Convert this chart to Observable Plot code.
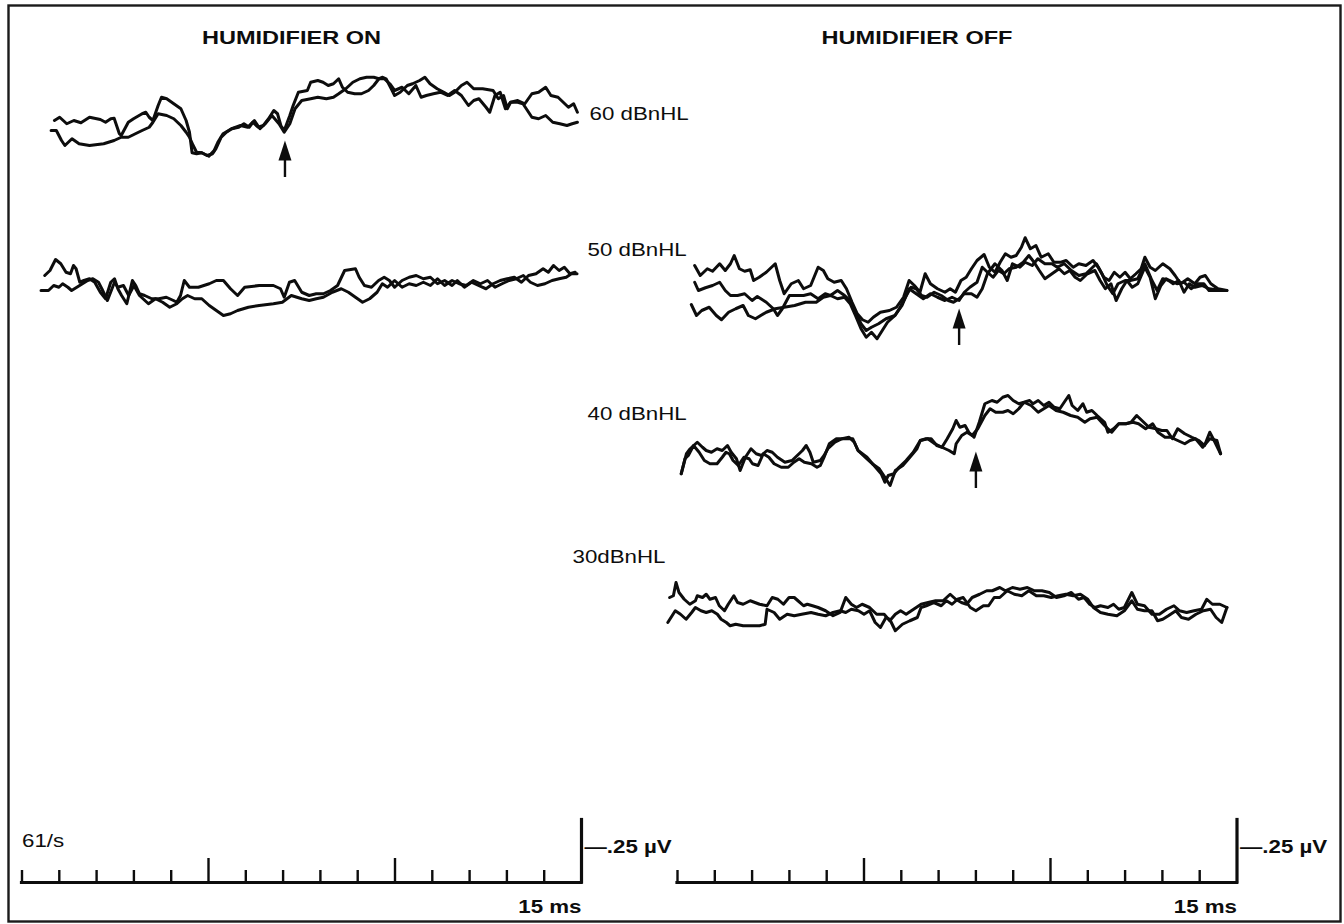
<!DOCTYPE html>
<html>
<head>
<meta charset="utf-8">
<script src="https://cdn.jsdelivr.net/npm/d3@7"></script>
<script src="https://cdn.jsdelivr.net/npm/@observablehq/plot@0.6"></script>
<style>
  html, body { margin: 0; padding: 0; background: #fff; }
  #chart { width: 1344px; height: 924px; }
</style>
</head>
<body>
<div id="chart"></div>
<script>
// ---------------- DATA (time in ms, amplitude in µV relative to each trace's baseline) ----------------
const panelTitles = ["HUMIDIFIER ON", "HUMIDIFIER OFF"];
const levelLabels = ["60 dBnHL", "50 dBnHL", "40 dBnHL", "30dBnHL"];
const rateLabel = "61/s";
const timeLabel = "15 ms";
const ampLabel = "\u2014.25 \u00b5V";
const sweepMs = 15;
const calibrationUV = 0.25;
const tickTimes = [0, 1, 2, 3, 4, 5, 6, 7, 8, 9, 10, 11, 12, 13, 14];
const majorTickTimes = [5, 10];

// Humidifier ON, 60 dBnHL (two replications)
const on60a = [[0.87,0.020],[1.01,0.033],[1.20,0.007],[1.39,0.020],[1.58,0.011],[1.81,0.033],[2.10,0.024],[2.24,0.013],[2.38,0.027],[2.47,0.029],[2.61,-0.033],[2.66,-0.040],[2.85,0.013],[2.99,0.027],[3.22,0.047],[3.32,0.053],[3.41,0.033],[3.51,0.020],[3.65,0.080],[3.74,0.113],[3.88,0.107],[4.07,0.087],[4.26,0.067],[4.40,0.020],[4.49,-0.027],[4.56,-0.109],[4.68,-0.113],[4.82,-0.109],[4.96,-0.120],[5.11,-0.113],[5.20,-0.093],[5.34,-0.047],[5.48,-0.027],[5.62,-0.013],[5.81,-0.007],[5.95,0.007],[6.09,-0.007],[6.19,0.013],[6.33,-0.007],[6.47,0],[6.61,0.027],[6.75,0.060],[6.85,0.047],[6.94,0],[7.03,-0.020],[7.18,0.040],[7.27,0.080],[7.41,0.133],[7.65,0.140],[7.74,0.173],[7.93,0.180],[8.07,0.173],[8.21,0.160],[8.35,0.167],[8.49,0.187],[8.59,0.153],[8.73,0.133],[8.92,0.127],[9.10,0.127],[9.29,0.140],[9.43,0.160],[9.57,0.187],[9.67,0.193],[9.76,0.187],[9.90,0.147],[9.99,0.120],[10.14,0.133],[10.33,0.160],[10.47,0.167],[10.66,0.180],[10.80,0.193],[10.94,0.167],[11.13,0.147],[11.31,0.133],[11.46,0.120],[11.60,0.133],[11.78,0.160],[11.93,0.173],[12.11,0.147],[12.35,0.147],[12.63,0.140],[12.77,0.107],[12.91,0.120],[13.01,0.067],[13.10,0.093],[13.29,0.100],[13.48,0.087],[13.67,0.127],[13.85,0.133],[14.04,0.153],[14.18,0.120],[14.37,0.113],[14.51,0.093],[14.65,0.073],[14.79,0.087],[14.89,0.053]];
const on60b = [[0.78,-0.020],[0.92,-0.020],[1.06,-0.060],[1.15,-0.080],[1.34,-0.053],[1.53,-0.073],[1.81,-0.080],[2.19,-0.073],[2.47,-0.060],[2.66,-0.047],[2.85,-0.047],[3.04,-0.033],[3.22,-0.020],[3.41,-0.007],[3.51,0.013],[3.65,0.047],[3.88,0.040],[4.07,0.027],[4.26,0],[4.40,-0.027],[4.49,-0.047],[4.59,-0.080],[4.68,-0.107],[4.82,-0.109],[5.01,-0.123],[5.15,-0.100],[5.25,-0.067],[5.39,-0.033],[5.62,-0.013],[5.86,0],[6.05,-0.007],[6.23,0.020],[6.38,-0.013],[6.52,0.007],[6.70,0.040],[6.89,0.007],[7.03,-0.027],[7.18,0.007],[7.32,0.067],[7.50,0.100],[7.74,0.107],[7.93,0.113],[8.16,0.107],[8.35,0.113],[8.49,0.127],[8.68,0.147],[8.87,0.173],[9.06,0.187],[9.24,0.193],[9.43,0.193],[9.57,0.187],[9.71,0.187],[9.86,0.167],[9.99,0.140],[10.19,0.153],[10.37,0.127],[10.56,0.160],[10.70,0.113],[10.84,0.120],[11.03,0.127],[11.22,0.133],[11.41,0.120],[11.60,0.140],[11.78,0.120],[11.97,0.080],[12.11,0.100],[12.25,0.107],[12.44,0.073],[12.54,0.053],[12.68,0.120],[12.82,0.133],[12.96,0.067],[13.10,0.093],[13.29,0.093],[13.43,0.087],[13.52,0.067],[13.67,0.033],[13.85,0.027],[14.04,0.040],[14.23,0.013],[14.42,0.007],[14.61,0],[14.75,0.007],[14.89,0.013]];

// Humidifier ON, 50 dBnHL
const on50a = [[0.61,0.060],[0.75,0.080],[0.90,0.124],[1.04,0.107],[1.18,0.073],[1.30,0.067],[1.38,0.100],[1.45,0.087],[1.55,0.033],[1.66,0.040],[1.81,0.047],[1.95,0.033],[2.10,-0.007],[2.24,-0.033],[2.38,0.033],[2.48,0.047],[2.57,0.007],[2.67,-0.020],[2.81,-0.053],[2.96,0.040],[3.05,0.020],[3.15,-0.013],[3.29,-0.020],[3.48,-0.033],[3.67,-0.033],[3.87,-0.027],[4.06,-0.040],[4.15,-0.047],[4.25,-0.020],[4.35,0.040],[4.49,0.013],[4.73,0.013],[5.02,0.027],[5.21,0.040],[5.40,0.040],[5.59,0.007],[5.78,-0.020],[5.97,0.013],[6.36,0.020],[6.74,0.020],[6.93,0.007],[7.03,-0.027],[7.17,0.033],[7.31,0.040],[7.50,-0.007],[7.70,-0.020],[7.89,-0.013],[8.08,-0.013],[8.27,0],[8.46,0.020],[8.65,0.080],[8.94,0.087],[9.04,0.053],[9.18,0.020],[9.37,0.013],[9.56,0.040],[9.71,0.053],[9.85,0.040],[9.99,0.013],[10.19,0.040],[10.38,0.053],[10.57,0.060],[10.76,0.047],[10.95,0.053],[11.14,0.027],[11.33,0.040],[11.53,0.020],[11.67,0.040],[11.86,0.013],[12.05,0.033],[12.24,0.020],[12.44,0.007],[12.63,0.027],[12.82,0.040],[13.01,0.047],[13.20,0.053],[13.39,0.033],[13.58,0.060],[13.78,0.067],[13.97,0.087],[14.11,0.073],[14.25,0.100],[14.40,0.080],[14.54,0.093],[14.69,0.067],[14.83,0.073]];
const on50b = [[0.51,0],[0.71,0],[0.85,0.020],[0.99,0.013],[1.09,0.027],[1.23,0.013],[1.33,0],[1.47,0.013],[1.62,0.027],[1.76,0.040],[1.90,0.047],[2.05,0.033],[2.14,0.007],[2.29,-0.040],[2.48,0.033],[2.57,0.013],[2.72,0.020],[2.86,-0.020],[3.00,0.020],[3.15,-0.020],[3.39,-0.053],[3.58,-0.033],[3.77,-0.047],[3.96,-0.067],[4.15,-0.053],[4.30,-0.033],[4.44,-0.020],[4.63,-0.033],[4.82,-0.033],[5.02,-0.060],[5.21,-0.080],[5.40,-0.100],[5.59,-0.093],[5.78,-0.080],[6.07,-0.067],[6.36,-0.060],[6.74,-0.053],[6.98,-0.047],[7.22,-0.020],[7.50,-0.033],[7.70,-0.040],[7.89,-0.033],[8.08,-0.027],[8.32,-0.007],[8.56,0.007],[8.75,-0.007],[8.94,-0.027],[9.13,-0.047],[9.32,-0.033],[9.52,-0.007],[9.66,0.027],[9.80,0.013],[9.99,0.040],[10.19,0.013],[10.38,0.027],[10.57,0.020],[10.76,0.033],[10.95,0.020],[11.14,0.047],[11.33,0.020],[11.53,0.040],[11.72,0.027],[11.91,0.020],[12.10,0.040],[12.29,0.027],[12.48,0.040],[12.68,0.013],[12.87,0.027],[13.06,0.040],[13.25,0.047],[13.44,0.060],[13.63,0.033],[13.82,0.020],[14.02,0.027],[14.21,0.040],[14.40,0.047],[14.59,0.053],[14.73,0.067],[14.88,0.067]];

// Humidifier OFF, 50 dBnHL (three replications)
const off50a = [[0.46,0.100],[0.61,0.060],[0.80,0.087],[0.94,0.077],[1.13,0.107],[1.28,0.080],[1.42,0.107],[1.52,0.140],[1.66,0.087],[1.80,0.077],[1.95,0.083],[2.04,0.040],[2.19,0.053],[2.38,0.073],[2.62,0.107],[2.74,0.040],[2.86,-0.013],[3.05,0.027],[3.24,0.040],[3.38,0.007],[3.57,0.020],[3.77,0.093],[3.91,0.080],[4.03,0.047],[4.20,0.033],[4.39,0.040],[4.53,0.007],[4.68,-0.047],[4.82,-0.093],[4.96,-0.117],[5.11,-0.127],[5.25,-0.107],[5.44,-0.087],[5.68,-0.080],[5.87,-0.067],[6.06,-0.027],[6.21,0.040],[6.35,0.020],[6.50,-0.007],[6.64,0.067],[6.78,0.027],[6.97,0.007],[7.17,-0.007],[7.31,0.007],[7.45,-0.007],[7.60,0.040],[7.74,0.053],[7.88,0.087],[8.03,0.120],[8.22,0.144],[8.36,0.093],[8.51,0.073],[8.65,0.113],[8.79,0.147],[8.94,0.133],[9.08,0.140],[9.22,0.173],[9.32,0.211],[9.46,0.167],[9.61,0.180],[9.75,0.133],[9.94,0.147],[10.09,0.113],[10.28,0.113],[10.42,0.120],[10.61,0.093],[10.76,0.107],[10.95,0.100],[11.14,0.120],[11.28,0.093],[11.43,0.053],[11.57,0.040],[11.71,0.073],[11.86,0.053],[12.00,0.073],[12.14,0.047],[12.29,0.067],[12.43,0.087],[12.53,0.133],[12.67,0.093],[12.81,0.080],[13.01,0.107],[13.20,0.087],[13.34,0.060],[13.49,0.027],[13.68,0.047],[13.87,0.027],[14.01,0.053],[14.15,0.060],[14.30,0.027],[14.49,0.007],[14.73,0]];
const off50b = [[0.46,0.033],[0.56,0],[0.75,0.011],[0.94,0.020],[1.13,0.033],[1.28,0],[1.42,-0.020],[1.61,-0.020],[1.80,-0.013],[2.00,-0.040],[2.14,-0.024],[2.38,-0.047],[2.57,-0.073],[2.68,-0.100],[2.81,-0.073],[3.00,-0.020],[3.19,-0.020],[3.38,-0.020],[3.57,-0.013],[3.77,-0.033],[3.96,-0.013],[4.10,-0.020],[4.29,0],[4.48,-0.020],[4.63,-0.040],[4.77,-0.087],[4.92,-0.133],[5.06,-0.160],[5.20,-0.147],[5.39,-0.133],[5.59,-0.113],[5.83,-0.100],[6.02,-0.060],[6.21,0.007],[6.40,-0.013],[6.59,-0.033],[6.78,-0.013],[6.97,-0.027],[7.17,-0.040],[7.36,-0.027],[7.55,-0.040],[7.69,-0.007],[7.84,0.013],[8.03,0.033],[8.17,0.093],[8.31,0.073],[8.46,0.053],[8.60,0.080],[8.75,0.067],[8.89,0.087],[9.08,0.093],[9.27,0.113],[9.42,0.140],[9.56,0.113],[9.70,0.080],[9.85,0.047],[10.04,0.067],[10.23,0.087],[10.37,0.067],[10.52,0.080],[10.66,0.053],[10.80,0.040],[10.99,0.067],[11.19,0.080],[11.33,0.040],[11.47,0.007],[11.62,0.027],[11.76,-0.040],[11.91,0.007],[12.05,0.040],[12.19,0.013],[12.34,0.027],[12.53,0.093],[12.67,0.053],[12.81,-0.033],[12.96,0.020],[13.10,0.047],[13.29,0.027],[13.44,0.040],[13.58,-0.007],[13.72,0.027],[13.87,0.013],[14.06,0.020],[14.25,0.007],[14.44,0.003],[14.59,0]];
const off50c = [[0.37,-0.056],[0.51,-0.100],[0.65,-0.080],[0.85,-0.067],[1.04,-0.100],[1.18,-0.117],[1.37,-0.087],[1.56,-0.073],[1.76,-0.060],[1.90,-0.100],[2.09,-0.113],[2.38,-0.087],[2.62,-0.073],[2.86,-0.067],[3.14,-0.060],[3.43,-0.047],[3.72,-0.047],[3.91,-0.027],[4.10,-0.020],[4.29,-0.033],[4.48,-0.027],[4.63,-0.053],[4.77,-0.100],[4.92,-0.153],[5.06,-0.187],[5.20,-0.167],[5.35,-0.193],[5.49,-0.160],[5.63,-0.127],[5.83,-0.100],[5.97,-0.067],[6.11,-0.027],[6.26,0.013],[6.40,0.007],[6.54,-0.020],[6.69,-0.027],[6.88,-0.007],[7.07,-0.020],[7.26,-0.040],[7.40,-0.047],[7.55,-0.033],[7.69,-0.013],[7.88,-0.013],[8.03,-0.027],[8.17,0.007],[8.31,0.067],[8.51,0.107],[8.70,0.080],[8.84,0.040],[8.98,0.107],[9.18,0.093],[9.32,0.113],[9.51,0.100],[9.66,0.127],[9.85,0.107],[10.04,0.107],[10.18,0.093],[10.37,0.107],[10.56,0.080],[10.76,0.060],[10.95,0.067],[11.09,0.087],[11.23,0.107],[11.38,0.067],[11.52,0.020],[11.67,-0.013],[11.81,0.027],[12.00,0.040],[12.14,0.040],[12.34,0.047],[12.53,0.107],[12.72,0.040],[12.86,0],[13.01,0.047],[13.20,0.040],[13.39,0.027],[13.58,0.033],[13.77,0.007],[13.96,0.027],[14.11,0.027],[14.25,0],[14.44,0],[14.73,0]];

// Humidifier OFF, 40 dBnHL
const off40a = [[0.10,-0.093],[0.24,-0.013],[0.34,0.007],[0.53,0.033],[0.67,0.013],[0.77,0],[0.91,-0.007],[1.06,0.007],[1.20,0],[1.34,0.020],[1.44,-0.007],[1.58,-0.033],[1.68,-0.080],[1.82,-0.027],[1.97,0.007],[2.11,-0.013],[2.25,-0.020],[2.40,0],[2.54,-0.007],[2.68,-0.027],[2.88,-0.047],[3.07,-0.040],[3.21,-0.020],[3.35,0],[3.45,0.020],[3.55,-0.007],[3.64,-0.047],[3.83,-0.040],[3.93,-0.020],[4.03,0.007],[4.22,0.033],[4.41,0.047],[4.60,0.053],[4.74,0.033],[4.84,0],[5.03,-0.027],[5.22,-0.053],[5.41,-0.073],[5.56,-0.107],[5.70,-0.140],[5.84,-0.080],[6.04,-0.060],[6.23,-0.027],[6.42,0.007],[6.51,0.040],[6.66,0.047],[6.80,0.047],[6.95,0.020],[7.09,0.013],[7.23,0.047],[7.38,0.087],[7.47,0.120],[7.57,0.093],[7.71,0.100],[7.81,0.073],[7.95,0.053],[8.09,0.113],[8.24,0.187],[8.43,0.200],[8.57,0.193],[8.72,0.213],[8.86,0.220],[9.00,0.200],[9.15,0.187],[9.29,0.193],[9.44,0.200],[9.53,0.187],[9.67,0.200],[9.82,0.180],[9.96,0.193],[10.10,0.173],[10.25,0.167],[10.34,0.187],[10.49,0.220],[10.58,0.180],[10.73,0.160],[10.87,0.187],[10.97,0.153],[11.11,0.160],[11.25,0.140],[11.45,0.113],[11.54,0.073],[11.69,0.087],[11.83,0.107],[12.02,0.107],[12.16,0.113],[12.31,0.140],[12.45,0.120],[12.64,0.093],[12.83,0.087],[12.98,0.080],[13.12,0.080],[13.27,0.047],[13.41,0.087],[13.60,0.067],[13.79,0.053],[13.98,0.040],[14.13,0.020],[14.27,0.073],[14.41,0.033],[14.56,-0.013]];
const off40b = [[0.10,-0.093],[0.20,-0.033],[0.29,-0.020],[0.43,0.020],[0.58,-0.007],[0.72,-0.040],[0.87,-0.053],[1.06,-0.053],[1.20,-0.027],[1.30,-0.007],[1.39,-0.013],[1.49,-0.040],[1.63,-0.060],[1.78,-0.027],[1.92,-0.033],[2.01,-0.053],[2.16,-0.060],[2.30,-0.013],[2.45,-0.027],[2.59,-0.053],[2.78,-0.067],[2.97,-0.067],[3.12,-0.047],[3.26,-0.033],[3.40,-0.047],[3.59,-0.053],[3.74,-0.067],[3.83,-0.060],[3.93,-0.027],[4.07,0.027],[4.26,0.047],[4.50,0.047],[4.70,0.047],[4.84,0],[5.08,-0.027],[5.27,-0.060],[5.46,-0.093],[5.56,-0.127],[5.65,-0.100],[5.80,-0.093],[5.94,-0.067],[6.13,-0.040],[6.32,-0.007],[6.51,0.040],[6.71,0.047],[6.90,0.027],[7.09,0.013],[7.28,0],[7.42,-0.013],[7.47,0.027],[7.62,0.060],[7.76,0.073],[7.90,0.060],[8.05,0.087],[8.24,0.140],[8.38,0.167],[8.53,0.153],[8.72,0.153],[8.86,0.160],[9.00,0.147],[9.15,0.167],[9.29,0.193],[9.48,0.180],[9.67,0.153],[9.82,0.167],[9.96,0.180],[10.15,0.160],[10.34,0.153],[10.54,0.140],[10.73,0.133],[10.92,0.113],[11.06,0.127],[11.25,0.133],[11.45,0.100],[11.64,0.073],[11.83,0.107],[12.02,0.107],[12.21,0.113],[12.36,0.107],[12.55,0.087],[12.74,0.107],[12.88,0.073],[13.07,0.053],[13.22,0.053],[13.41,0.040],[13.60,0.027],[13.74,0.040],[13.89,0.047],[14.08,0.013],[14.27,0.047],[14.46,0.040],[14.56,-0.013]];

// Humidifier OFF, 30 dBnHL
const off30a = [[-0.21,0.032],[-0.11,0.039],[-0.04,0.092],[0.04,0.052],[0.18,0.025],[0.33,0.005],[0.48,0.019],[0.53,0.039],[0.67,0.032],[0.77,0.045],[0.87,0.025],[1.02,0.032],[1.12,-0.001],[1.26,-0.021],[1.36,0.005],[1.51,0.039],[1.61,0.012],[1.76,0.005],[1.95,0.019],[2.20,0.005],[2.40,-0.001],[2.54,0.032],[2.69,0.025],[2.84,0.005],[2.99,0.032],[3.13,0.032],[3.23,0.019],[3.38,-0.001],[3.48,0.005],[3.62,-0.001],[3.77,-0.008],[3.97,-0.021],[4.17,-0.041],[4.36,-0.028],[4.51,0.032],[4.66,0.005],[4.80,-0.008],[4.95,0.005],[5.15,-0.008],[5.34,-0.035],[5.54,-0.035],[5.69,-0.061],[5.84,-0.035],[5.98,-0.021],[6.13,-0.035],[6.33,-0.015],[6.53,0.005],[6.72,0.012],[6.92,0.019],[7.12,0.019],[7.31,0.045],[7.46,0.025],[7.61,0.012],[7.75,0.005],[7.90,0.032],[8.10,0.045],[8.29,0.059],[8.44,0.059],[8.64,0.072],[8.79,0.059],[8.98,0.072],[9.18,0.065],[9.38,0.072],[9.57,0.059],[9.77,0.059],[9.97,0.052],[10.16,0.032],[10.36,0.039],[10.56,0.052],[10.75,0.025],[10.90,0.032],[11.05,0.005],[11.19,-0.008],[11.34,-0.001],[11.54,-0.008],[11.69,0.005],[11.83,-0.015],[11.98,-0.008],[12.18,0.052],[12.33,0.005],[12.52,-0.001],[12.72,-0.035],[12.92,-0.035],[13.11,-0.015],[13.31,-0.001],[13.46,-0.021],[13.65,-0.028],[13.85,-0.021],[14.05,-0.015],[14.19,0.025],[14.34,0.005],[14.54,0.005],[14.73,-0.008]];
const off30b = [[-0.26,-0.068],[-0.06,-0.021],[0.08,-0.035],[0.23,-0.055],[0.38,-0.028],[0.48,-0.008],[0.63,-0.021],[0.77,-0.028],[0.92,-0.021],[1.07,-0.035],[1.17,-0.055],[1.31,-0.068],[1.41,-0.081],[1.56,-0.075],[1.76,-0.081],[2.00,-0.081],[2.20,-0.081],[2.35,-0.075],[2.40,-0.015],[2.59,-0.028],[2.74,-0.055],[2.94,-0.035],[3.13,-0.041],[3.33,-0.035],[3.58,-0.028],[3.77,-0.035],[3.97,-0.041],[4.17,-0.028],[4.36,-0.021],[4.51,-0.028],[4.66,-0.015],[4.85,-0.021],[5.00,-0.035],[5.15,-0.021],[5.30,-0.068],[5.44,-0.088],[5.59,-0.048],[5.69,-0.055],[5.84,-0.101],[6.03,-0.075],[6.23,-0.061],[6.43,-0.048],[6.53,-0.008],[6.67,-0.001],[6.87,0.012],[7.07,-0.001],[7.21,0.019],[7.36,0.005],[7.51,0.025],[7.66,0.032],[7.85,-0.008],[8.00,-0.021],[8.20,-0.001],[8.34,-0.001],[8.49,0.032],[8.64,0.032],[8.84,0.059],[9.03,0.045],[9.23,0.039],[9.42,0.059],[9.62,0.039],[9.82,0.039],[10.02,0.032],[10.21,0.039],[10.41,0.045],[10.61,0.039],[10.80,0.045],[11.00,0.025],[11.15,-0.008],[11.34,-0.028],[11.54,-0.035],[11.78,-0.041],[11.98,-0.021],[12.18,0.019],[12.33,-0.015],[12.52,-0.021],[12.72,-0.021],[12.87,-0.061],[13.01,-0.055],[13.16,-0.041],[13.36,-0.021],[13.51,-0.048],[13.70,-0.055],[13.90,-0.035],[14.10,-0.021],[14.29,-0.015],[14.44,-0.048],[14.59,-0.068],[14.73,-0.008]];

// Wave V markers (latency in ms, arrow tip amplitude in µV relative to trace baseline)
const waveVPanel = [0, 1, 1];
const waveVRow = ["on60", "off50", "off40"];
const waveVLatency = [7.05, 7.55, 8.00];
const waveVTip = [-0.060, -0.072, -0.004];

// ---------------- LAYOUT (page geometry, not data) ----------------
const W = 1344, H = 924;
const frameBox = {left: 8, top: 5, right: 1340, bottom: 921};
const pxPerMs = 37.3, pxPerUV = 250;
const axisYpx = 882;                       // time-axis baseline
const panelOriginPx = [21.5, 677];         // 0 ms of each panel
const panelOffsetMs = panelOriginPx.map(p => (p - panelOriginPx[0]) / pxPerMs);
const rowBasePx = {on60: 125, on50: 290, off50: 290, off40: 450, off30: 605};
const rowOffset = r => (axisYpx - rowBasePx[r]) / pxPerUV;
const tickMinorPx = 12, tickMajorPx = 24, arrowLenPx = 37, arrowHeadPx = 20;
const textStretch = 1.24;
const FONT = "'Liberation Sans', Arial, Helvetica, sans-serif";

const traces = [
  {id: "on60a", panel: 0, row: "on60", values: on60a},
  {id: "on60b", panel: 0, row: "on60", values: on60b},
  {id: "on50a", panel: 0, row: "on50", values: on50a},
  {id: "on50b", panel: 0, row: "on50", values: on50b},
  {id: "off50a", panel: 1, row: "off50", values: off50a},
  {id: "off50b", panel: 1, row: "off50", values: off50b},
  {id: "off50c", panel: 1, row: "off50", values: off50c},
  {id: "off40a", panel: 1, row: "off40", values: off40a},
  {id: "off40b", panel: 1, row: "off40", values: off40b},
  {id: "off30a", panel: 1, row: "off30", values: off30a},
  {id: "off30b", panel: 1, row: "off30", values: off30b}
];
const lineData = traces.flatMap(tr => tr.values.map(([t, v]) => ({
  trace: tr.id, x: t + panelOffsetMs[tr.panel], y: v + rowOffset(tr.row)
})));

const panelsIdx = [0, 1];
const tickData = panelsIdx.flatMap(p => tickTimes.map(t => ({
  x: t + panelOffsetMs[p],
  len: (majorTickTimes.includes(t) ? tickMajorPx : tickMinorPx) / pxPerUV
})));

const arrowData = waveVLatency.map((t, i) => ({
  x: t + panelOffsetMs[waveVPanel[i]],
  tip: waveVTip[i] + rowOffset(waveVRow[i])
}));

const pxToUV = ypx => (axisYpx - ypx) / pxPerUV;
const pxToMs = xpx => (xpx - panelOriginPx[0]) / pxPerMs;

const titleData = [
  {x: pxToMs(291), y: pxToUV(37), text: panelTitles[0]},
  {x: pxToMs(916.5), y: pxToUV(37), text: panelTitles[1]}
];
const levelData = [
  {x: pxToMs(589), y: pxToUV(114), text: levelLabels[0]},
  {x: pxToMs(587), y: pxToUV(250), text: levelLabels[1]},
  {x: pxToMs(587), y: pxToUV(414), text: levelLabels[2]},
  {x: pxToMs(572), y: pxToUV(557), text: levelLabels[3]}
];
const ampData = panelsIdx.map(p => ({x: panelOffsetMs[p] + sweepMs + 0.08, y: pxToUV(847), text: ampLabel}));
const msData = panelsIdx.map(p => ({x: panelOffsetMs[p] + sweepMs, y: pxToUV(907), text: timeLabel}));
const rateData = [{x: 0, y: pxToUV(841), text: rateLabel}];

const arrowHead = {
  draw(context) {
    const h = arrowHeadPx, w = 6.5;
    context.moveTo(0, 0);
    context.lineTo(w, h);
    context.lineTo(-w, h);
    context.closePath();
  }
};

const INK = "#0d0d0d";

const chart = Plot.plot({
  width: W,
  height: H,
  marginLeft: frameBox.left,
  marginRight: W - frameBox.right,
  marginTop: frameBox.top,
  marginBottom: H - frameBox.bottom,
  style: {background: "#fff", fontFamily: FONT, color: INK},
  x: {domain: [pxToMs(frameBox.left), pxToMs(frameBox.right)], axis: null},
  y: {domain: [pxToUV(frameBox.bottom), pxToUV(frameBox.top)], axis: null},
  marks: [
    Plot.frame({stroke: "#1a1a1a", strokeWidth: 2.4}),
    // traces
    Plot.line(lineData, {x: "x", y: "y", z: "trace", stroke: INK, strokeWidth: 3,
      strokeLinejoin: "round", strokeLinecap: "round", curve: "linear"}),
    // time axes
    Plot.ruleY(panelsIdx, {y: () => 0, x1: p => panelOffsetMs[p], x2: p => panelOffsetMs[p] + sweepMs,
      stroke: INK, strokeWidth: 3.2, strokeLinecap: "square"}),
    Plot.ruleX(tickData, {x: "x", y1: () => 0, y2: "len", stroke: INK, strokeWidth: 2.4}),
    // amplitude calibration bars
    Plot.ruleX(panelsIdx, {x: p => panelOffsetMs[p] + sweepMs, y1: () => 0, y2: () => calibrationUV,
      stroke: INK, strokeWidth: 3.2, strokeLinecap: "square"}),
    // wave V arrows
    Plot.ruleX(arrowData, {x: "x", y1: d => d.tip - arrowLenPx / pxPerUV, y2: d => d.tip - (arrowHeadPx - 4) / pxPerUV,
      stroke: INK, strokeWidth: 2.4}),
    Plot.dot(arrowData, {x: "x", y: "tip", symbol: arrowHead, r: 4, fill: INK, stroke: "none"}),
    // text
    Plot.text(titleData, {x: "x", y: "y", text: "text", textAnchor: "middle", lineAnchor: "middle",
      fontSize: 19, fontWeight: "bold", fontFamily: FONT, fill: INK}),
    Plot.text(levelData, {x: "x", y: "y", text: "text", textAnchor: "start", lineAnchor: "middle",
      fontSize: 18, fontFamily: FONT, fill: INK}),
    Plot.text(ampData, {x: "x", y: "y", text: "text", textAnchor: "start", lineAnchor: "middle",
      fontSize: 18, fontWeight: "bold", fontFamily: FONT, fill: INK}),
    Plot.text(msData, {x: "x", y: "y", text: "text", textAnchor: "end", lineAnchor: "middle",
      fontSize: 18, fontWeight: "bold", fontFamily: FONT, fill: INK}),
    Plot.text(rateData, {x: "x", y: "y", text: "text", textAnchor: "start", lineAnchor: "middle",
      fontSize: 18, fontFamily: FONT, fill: INK})
  ]
});

// widen the lettering like the original typeset figure
chart.querySelectorAll("text").forEach(el => {
  const tr = el.getAttribute("transform");
  if (tr) {
    el.setAttribute("transform", tr + ` scale(${textStretch},1)`);
  } else {
    const x = +el.getAttribute("x") || 0, y = +el.getAttribute("y") || 0;
    el.removeAttribute("x"); el.removeAttribute("y");
    el.setAttribute("transform", `translate(${x},${y}) scale(${textStretch},1)`);
  }
});

document.getElementById("chart").appendChild(chart);
</script>
</body>
</html>
